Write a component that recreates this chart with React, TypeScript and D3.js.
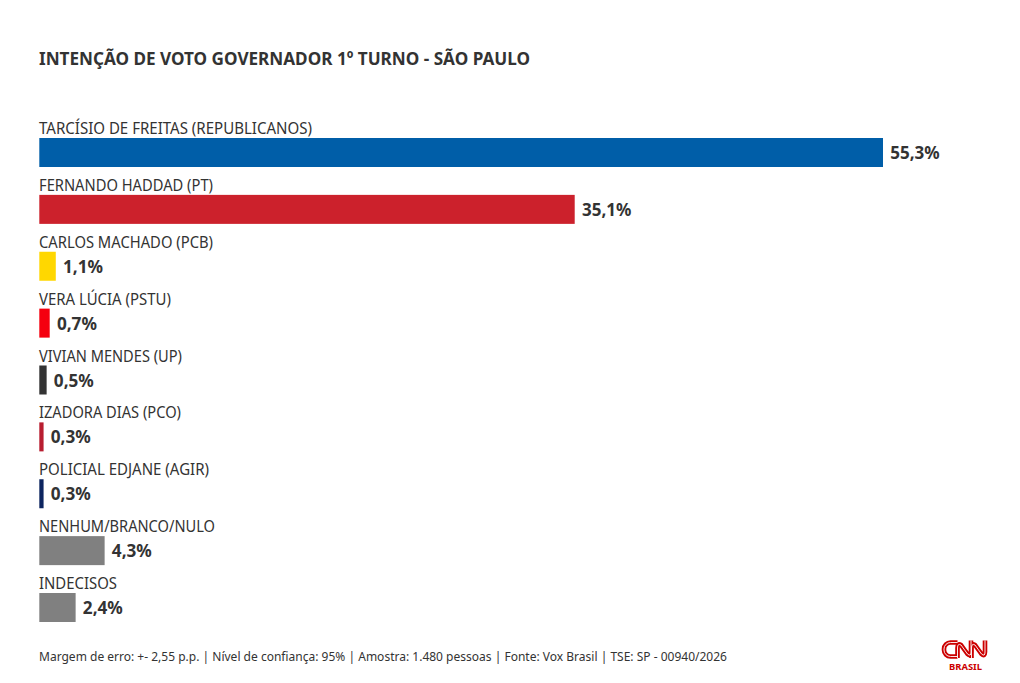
import React from "react";
import * as d3 from "d3";

const names = ["TARCÍSIO DE FREITAS (REPUBLICANOS)", "FERNANDO HADDAD (PT)", "CARLOS MACHADO (PCB)", "VERA LÚCIA (PSTU)", "VIVIAN MENDES (UP)", "IZADORA DIAS (PCO)", "POLICIAL EDJANE (AGIR)", "NENHUM/BRANCO/NULO", "INDECISOS"];
const values = [55.3, 35.1, 1.1, 0.7, 0.5, 0.3, 0.3, 4.3, 2.4];
const colors = ["#005ea8", "#cc212c", "#ffd700", "#f5000f", "#333333", "#b81d30", "#0d2560", "#808080", "#808080"];
const labelWidths = [273, 174, 174, 132, 143, 142, 170, 176, 78];
const title = "INTENÇÃO DE VOTO GOVERNADOR 1º TURNO - SÃO PAULO";
const footer = "Margem de erro: +- 2,55 p.p. | Nível de confiança: 95% | Amostra: 1.480 pessoas | Fonte: Vox Brasil | TSE: SP - 00940/2026";

const font = "'Noto Sans', sans-serif";
const ink = "#333333";
const logoPaths = [
  "M957.500 642.500h-7a6.500 6.500 0 0 0 -6.500 6.500v1a6.500 6.500 0 0 0 6.500 6.500h7",
  "M957.500 658V648q0-5 3.500-3l6.500 9q3.500 3 3.500-2V640.500",
  "M971.500 658V648q0-5 3.500-3l6.500 9q3.500 3 3.500-2V640.500",
];

export default function App() {
  const x = d3.scaleLinear().domain([0, 55.3]).range([39, 883]);
  const y = d3.scaleLinear().domain([0, names.length - 1]).range([138, 593]);
  const band = 29;
  return (
    <svg width={1020} height={683} style={{ position: "absolute", left: 0, top: 0, background: "#fff" }} fontFamily={font}>
      <text x={39} y={64.5} fontSize={18.4} fontWeight={700} fill={ink} textLength={491} lengthAdjust="spacingAndGlyphs">{title}</text>
      {names.map((n, i) => {
        const top = y(i);
        const lx = x(values[i]);
        const label = d3.format(".1f")(values[i]).replace(".", ",") + "%";
        return (
          <g key={n}>
            <text x={39} y={top - 4} fontSize={15.4} fill={ink} textLength={labelWidths[i]} lengthAdjust="spacingAndGlyphs">{n}</text>
            <rect x={39.3} y={top} width={lx - 39.3} height={band} fill={colors[i]} />
            <text x={lx + 7.2} y={top + 21} fontSize={17.6} fontWeight={700} fill={ink} textLength={label.length === 5 ? 49.5 : 40} lengthAdjust="spacingAndGlyphs">{label}</text>
          </g>
        );
      })}
      <text x={39} y={661} fontSize={13} fill={ink} textLength={688} lengthAdjust="spacingAndGlyphs">{footer}</text>
      <g fill="none" stroke="#cc0000" strokeWidth={4.6}>
        {logoPaths.map((d) => <path key={d} d={d} />)}
      </g>
      <g fill="none" stroke="#ffffff" strokeWidth={0.9}>
        {logoPaths.map((d) => <path key={d} d={d} />)}
      </g>
      <text x={965.5} y={670} fontSize={9.5} fontWeight={700} fill="#cc0000" textAnchor="middle" textLength={33} lengthAdjust="spacingAndGlyphs">BRASIL</text>
    </svg>
  );
}
